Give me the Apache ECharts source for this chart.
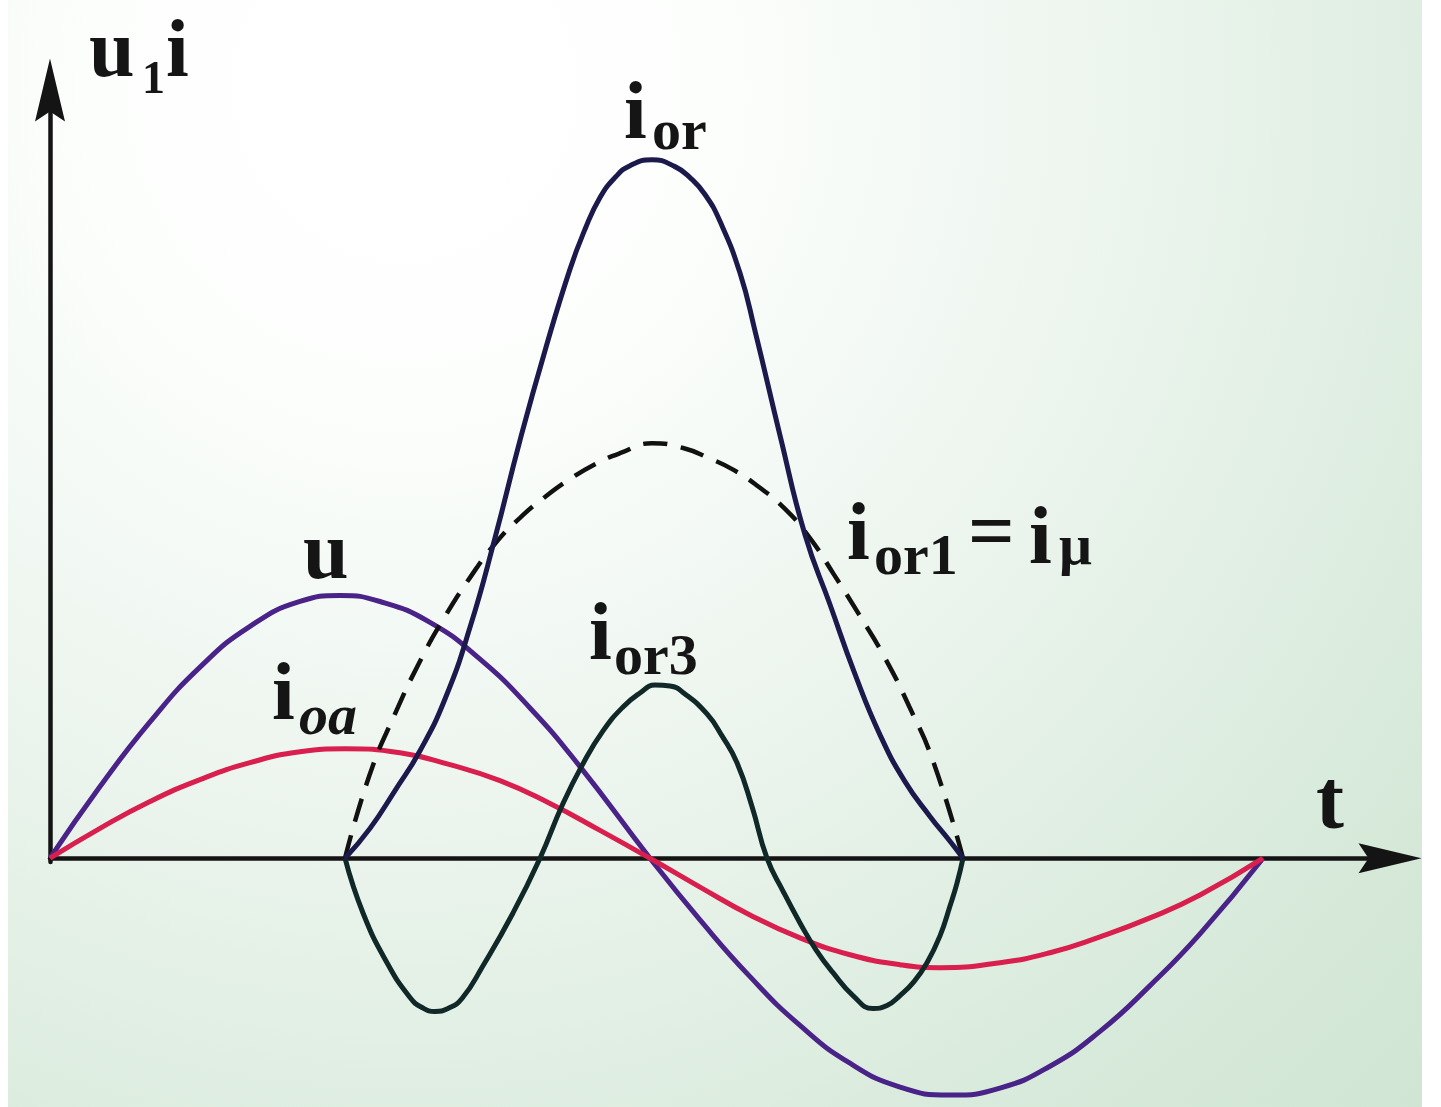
<!DOCTYPE html>
<html>
<head>
<meta charset="utf-8">
<script src="https://cdn.jsdelivr.net/npm/echarts@6/dist/echarts.min.js"></script>
<style>
    html, body { margin: 0; padding: 0; background: #ffffff; }
    #wrap { position: relative; width: 1441px; height: 1107px; overflow: hidden; }
    #bg {
        position: absolute; left: 8px; top: 0; width: 1414px; height: 1107px;
        background: radial-gradient(ellipse at 28% 8%, #ffffff 0%, #fcfefc 22%, #e9f3eb 55%, #d9ebdc 80%, #d0e5d3 100%);
    }
    #chart { position: absolute; left: 0; top: 0; width: 1441px; height: 1107px; }
</style>
</head>
<body>
<div id="wrap">
    <div id="bg"></div>
    <div id="chart"></div>
</div>
<script>
    // t 轴：原点处为 0；纵轴：x 轴处为 0（数值读自原图）
    // u
    var uT = [0, 50, 100, 150, 200, 250, 290, 330, 380, 430, 480, 530, 600, 650, 700, 750, 800, 850, 900, 950, 1000, 1050, 1100, 1150, 1213];
    var uV = [0, 72, 137, 192, 233, 258, 264, 258, 237, 200, 151, 92, 0, -62, -119, -168, -206, -230, -238, -231, -209, -174, -128, -76, 0];
    // i_oa
    var ioaT = [0, 50, 100, 150, 200, 250, 295, 350, 400, 450, 500, 550, 600, 650, 700, 750, 800, 850, 890, 950, 1000, 1050, 1100, 1150, 1213];
    var ioaV = [0, 30, 57, 79, 96, 107, 110, 106, 94, 78, 55, 28, 0, -29, -57, -80, -97, -107, -110, -105, -95, -79, -60, -37, 0];
    // i_or
    var iorT = [295, 320, 345, 370, 395, 420, 445, 470, 495, 520, 535, 550, 565, 580, 602, 625, 640, 655, 670, 690, 705, 730, 755, 780, 805, 830, 855, 880, 900, 913];
    var iorV = [0, 30, 68, 108, 160, 232, 322, 420, 510, 592, 632, 664, 684, 696, 702, 695, 684, 667, 640, 588, 530, 425, 325, 255, 185, 124, 77, 42, 17, 0];
    // i_or1 = i_μ（虚线）
    var ior1T = [295, 320, 345, 370, 395, 420, 445, 470, 495, 520, 545, 570, 602, 634, 659, 684, 709, 734, 759, 784, 809, 834, 859, 884, 913];
    var ior1V = [0, 85, 145, 198, 243, 282, 316, 342, 363, 381, 396, 407, 417, 412, 402, 390, 373, 352, 323, 285, 245, 203, 153, 95, 0];
    // i_or3
    var ior3T = [295, 313, 337, 360, 372, 385, 398, 412, 433, 463, 490, 513, 533, 553, 573, 590, 605, 620, 635, 657, 672, 687, 702, 717,
        733, 750, 766, 783, 803, 823, 837, 850, 864, 877, 890, 900, 907, 913];
    var ior3V = [0, -55, -105, -140, -150, -154, -151, -141, -108, -55, 0, 55, 95, 128, 152, 166, 174, 173, 165, 145, 123, 96, 52, 0,
        -33, -65, -92, -115, -138, -151, -148, -138, -124, -105, -78, -48, -25, 0];

    function pairs(ts, vs) {
        var out = [];
        for (var i = 0; i < ts.length; i++) {
            out.push([ts[i], vs[i]]);
        }
        return out;
    }

    var arrowPath = 'path://M15,0 L30,63 L15,53 L0,63 Z';
    var axisColor = '#141414';
    var mainFont = 'bold 82px "Liberation Serif"';
    var subFont = 'bold 58px "Liberation Serif"';

    function label(text, x, y, font) {
        return {
            type: 'text',
            silent: true,
            z: 10,
            style: {
                text: text,
                x: x,
                y: y,
                font: font,
                fill: '#151515',
                textAlign: 'left',
                textVerticalAlign: 'middle'
            }
        };
    }

    function curve(name, ts, vs, color, width, dash) {
        return {
            name: name,
            type: 'line',
            smooth: 0.5,
            showSymbol: false,
            lineStyle: {color: color, width: width, type: dash || 'solid'},
            data: pairs(ts, vs)
        };
    }

    var chart = echarts.init(document.getElementById('chart'));

    chart.setOption({
        backgroundColor: 'transparent',
        animation: false,
        grid: [
            {left: 50, top: 90, width: 1340, height: 1022},
            {left: 50, top: 90, width: 1340, height: 772}
        ],
        xAxis: [
            {
                type: 'value',
                gridIndex: 0,
                min: 0,
                max: 1340,
                axisLine: {
                    show: true,
                    onZero: true,
                    symbol: ['none', arrowPath],
                    symbolSize: [30, 63],
                    lineStyle: {color: axisColor, width: 4.5}
                },
                axisTick: {show: false},
                axisLabel: {show: false},
                splitLine: {show: false}
            },
            {
                type: 'value',
                gridIndex: 1,
                min: 0,
                max: 1340,
                show: false
            }
        ],
        yAxis: [
            {
                type: 'value',
                gridIndex: 0,
                min: -250,
                max: 772,
                show: false
            },
            {
                type: 'value',
                gridIndex: 1,
                min: 0,
                max: 772,
                axisLine: {
                    show: true,
                    onZero: false,
                    symbol: ['none', arrowPath],
                    symbolSize: [30, 63],
                    lineStyle: {color: axisColor, width: 4.5}
                },
                axisTick: {show: false},
                axisLabel: {show: false},
                splitLine: {show: false}
            }
        ],
        series: [
            curve('u', uT, uV, '#4a2388', 5),
            curve('i_oa', ioaT, ioaV, '#d81f4e', 5),
            curve('i_or1', ior1T, ior1V, '#111111', 4.5, [24, 14]),
            curve('i_or3', ior3T, ior3V, '#112828', 5),
            curve('i_or', iorT, iorV, '#1c1a4c', 5)
        ],
        graphic: [
            // 纵轴名 u1i
            label('u', 89, 55, mainFont),
            label('1', 142, 81, 'bold 46px "Liberation Serif"'),
            label('i', 166, 55, mainFont),
            // t
            label('t', 1316, 806, 'bold 84px "Liberation Serif"'),
            // u
            label('u', 303, 557, mainFont),
            // i_oa
            label('i', 272, 698, mainFont),
            label('oa', 299, 719, 'italic ' + subFont),
            // i_or
            label('i', 624, 117, mainFont),
            label('or', 652, 134, subFont),
            // i_or3
            label('i', 589, 638, mainFont),
            label('or3', 614, 659, subFont),
            // i_or1 = i_μ
            label('i', 847, 538, mainFont),
            label('or1', 874, 559, subFont),
            label('=', 968, 537, mainFont),
            label('i', 1029, 542, mainFont),
            label('μ', 1059, 549, subFont)
        ]
    });
</script>
</body>
</html>
